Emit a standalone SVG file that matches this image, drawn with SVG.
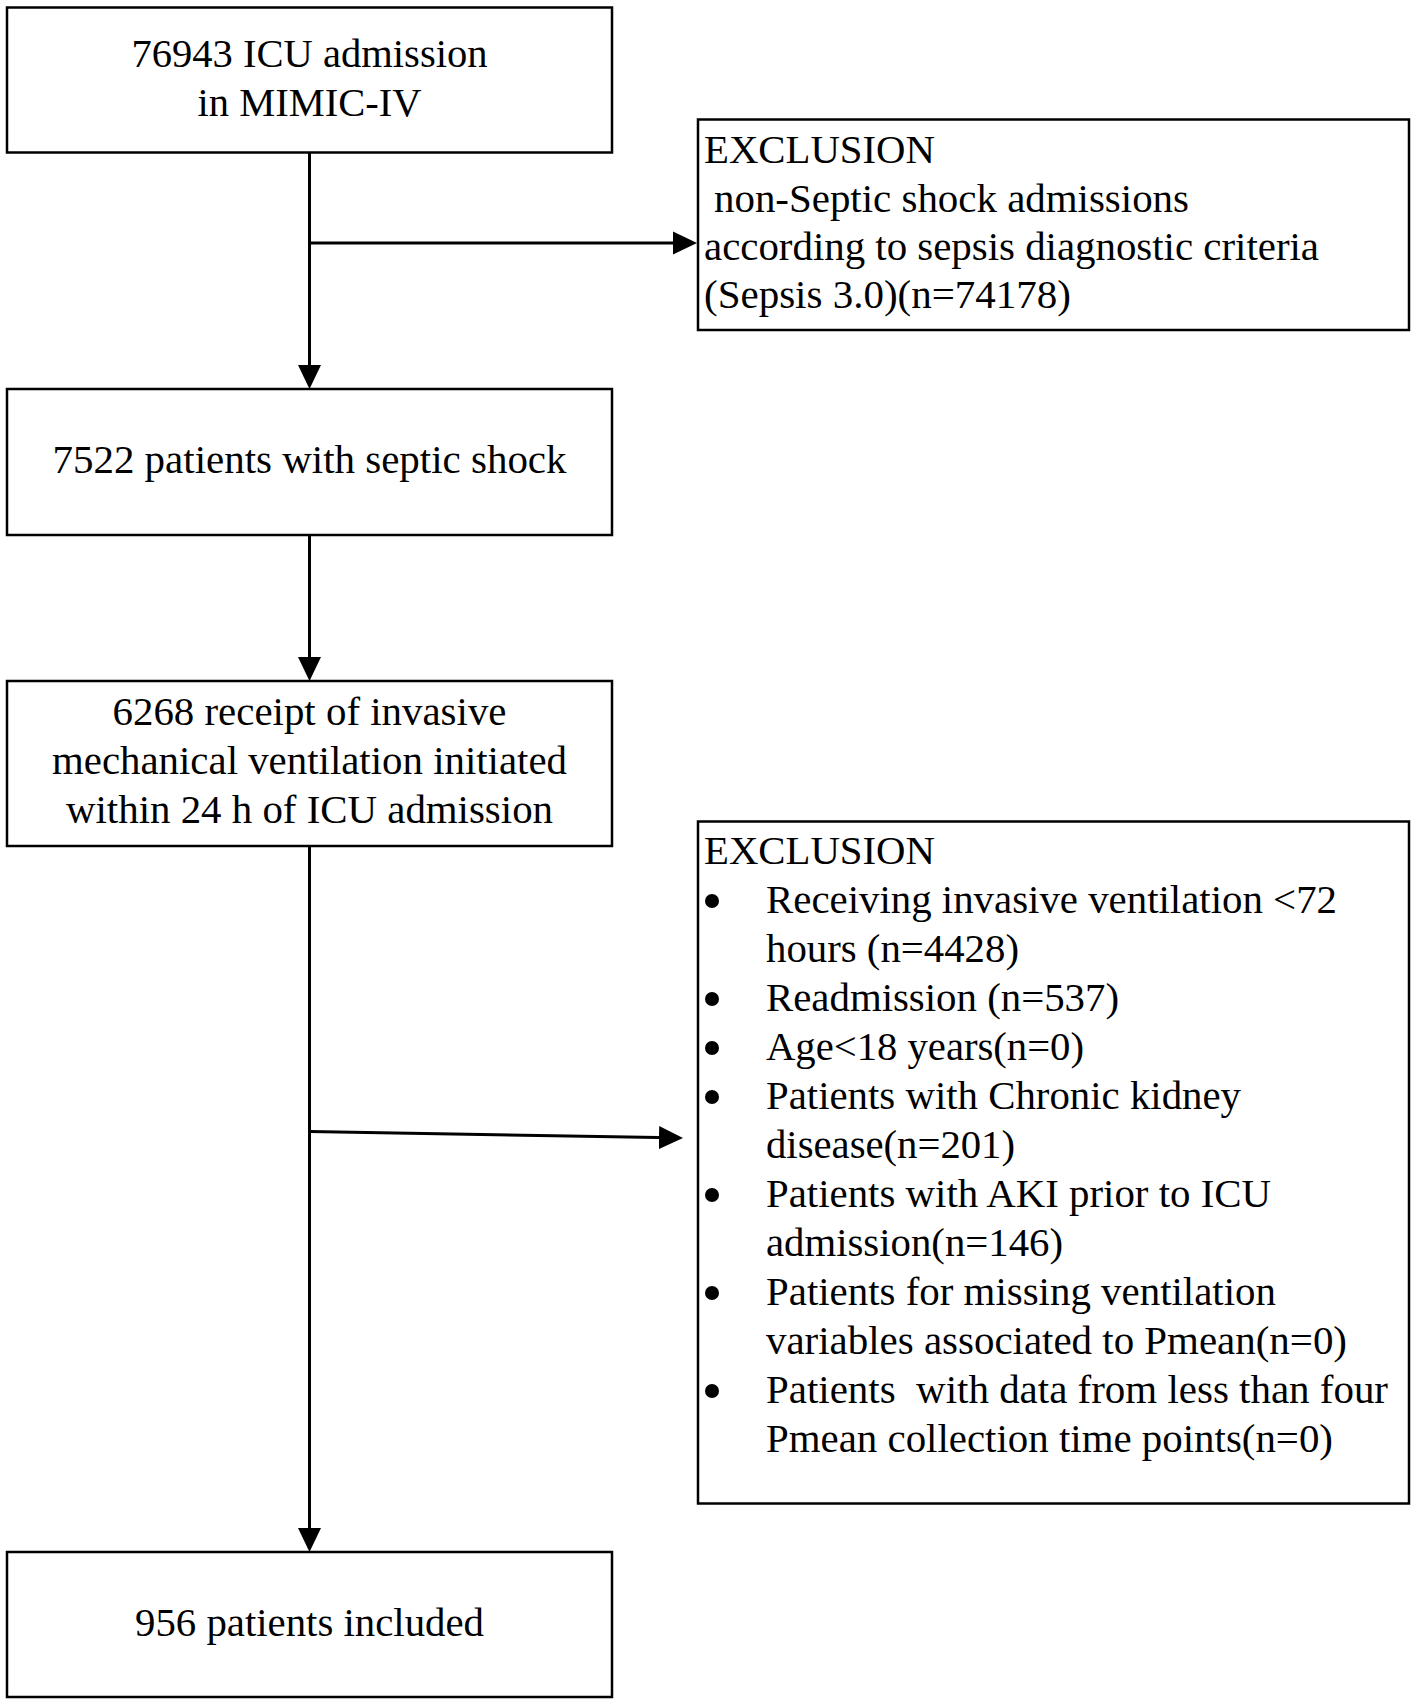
<svg xmlns="http://www.w3.org/2000/svg" width="1417" height="1704" viewBox="0 0 1417 1704">
<style>
.box{fill:#fff;stroke:#000;stroke-width:2.5}
.t{font-family:"Liberation Serif","Times New Roman",serif;font-size:41px;fill:#000}
.c{text-anchor:middle}
.ln{fill:none;stroke:#000;stroke-width:3}
.dot{fill:#000}
</style>
<defs>
<marker id="ah" markerUnits="userSpaceOnUse" markerWidth="24" markerHeight="24" refX="14" refY="11.5" orient="auto" viewBox="0 0 24 23">
<path d="M0,0 L24,11.5 L0,23 z" fill="#000"/>
</marker>
</defs>
<rect width="1417" height="1704" fill="#fff"/>
<g id="connectors">
<path class="ln" d="M309.5,152 L309.5,379" marker-end="url(#ah)"/>
<path class="ln" d="M309.5,243 L687,243" marker-end="url(#ah)"/>
<path class="ln" d="M309.5,535 L309.5,671" marker-end="url(#ah)"/>
<path class="ln" d="M309.5,846 L309.5,1542" marker-end="url(#ah)"/>
<path class="ln" d="M309.5,1131.5 L673,1137.8" marker-end="url(#ah)"/>
</g>
<g id="n1">
<rect class="box" x="7" y="7.5" width="605" height="145"/>
<text class="t c" x="309.5" y="67" textLength="356" lengthAdjust="spacingAndGlyphs">76943 ICU admission</text>
<text class="t c" x="309.5" y="116" textLength="224" lengthAdjust="spacingAndGlyphs">in MIMIC-IV</text>
</g>
<g id="ex1">
<rect class="box" x="698" y="119.5" width="711" height="210.5"/>
<text class="t" x="704" y="163" textLength="231" lengthAdjust="spacingAndGlyphs">EXCLUSION</text>
<text class="t" x="714" y="212" textLength="475" lengthAdjust="spacingAndGlyphs">non-Septic shock admissions</text>
<text class="t" x="704" y="260" textLength="615" lengthAdjust="spacingAndGlyphs">according to sepsis diagnostic criteria</text>
<text class="t" x="704" y="308" textLength="367" lengthAdjust="spacingAndGlyphs">(Sepsis 3.0)(n=74178)</text>
</g>
<g id="n2">
<rect class="box" x="7" y="389" width="605" height="146"/>
<text class="t c" x="309.5" y="473" textLength="514" lengthAdjust="spacingAndGlyphs">7522 patients with septic shock</text>
</g>
<g id="n3">
<rect class="box" x="7" y="681" width="605" height="165"/>
<text class="t c" x="309.5" y="725" textLength="394" lengthAdjust="spacingAndGlyphs">6268 receipt of invasive</text>
<text class="t c" x="309.5" y="774" textLength="515" lengthAdjust="spacingAndGlyphs">mechanical ventilation initiated</text>
<text class="t c" x="309.5" y="823" textLength="487" lengthAdjust="spacingAndGlyphs">within 24 h of ICU admission</text>
</g>
<g id="ex2">
<rect class="box" x="698" y="821.5" width="711" height="682"/>
<text class="t" x="704" y="864" textLength="231" lengthAdjust="spacingAndGlyphs">EXCLUSION</text>
<circle class="dot" cx="712" cy="901" r="7"/>
<text class="t" x="766" y="913" textLength="571" lengthAdjust="spacingAndGlyphs">Receiving invasive ventilation &lt;72</text>
<text class="t" x="766" y="962" textLength="253" lengthAdjust="spacingAndGlyphs">hours (n=4428)</text>
<circle class="dot" cx="712" cy="999" r="7"/>
<text class="t" x="766" y="1011" textLength="353" lengthAdjust="spacingAndGlyphs">Readmission (n=537)</text>
<circle class="dot" cx="712" cy="1048" r="7"/>
<text class="t" x="766" y="1060" textLength="318" lengthAdjust="spacingAndGlyphs">Age&lt;18 years(n=0)</text>
<circle class="dot" cx="712" cy="1097" r="7"/>
<text class="t" x="766" y="1109" textLength="475" lengthAdjust="spacingAndGlyphs">Patients with Chronic kidney</text>
<text class="t" x="766" y="1158" textLength="249" lengthAdjust="spacingAndGlyphs">disease(n=201)</text>
<circle class="dot" cx="712" cy="1195" r="7"/>
<text class="t" x="766" y="1207" textLength="505" lengthAdjust="spacingAndGlyphs">Patients with AKI prior to ICU</text>
<text class="t" x="766" y="1256" textLength="297" lengthAdjust="spacingAndGlyphs">admission(n=146)</text>
<circle class="dot" cx="712" cy="1293" r="7"/>
<text class="t" x="766" y="1305" textLength="510" lengthAdjust="spacingAndGlyphs">Patients for missing ventilation</text>
<text class="t" x="766" y="1354" textLength="581" lengthAdjust="spacingAndGlyphs">variables associated to Pmean(n=0)</text>
<circle class="dot" cx="712" cy="1391" r="7"/>
<text class="t" x="766" y="1403" textLength="622" lengthAdjust="spacingAndGlyphs" xml:space="preserve">Patients  with data from less than four</text>
<text class="t" x="766" y="1452" textLength="567" lengthAdjust="spacingAndGlyphs">Pmean collection time points(n=0)</text>
</g>
<g id="n4">
<rect class="box" x="7" y="1552" width="605" height="145"/>
<text class="t c" x="309.5" y="1636" textLength="349" lengthAdjust="spacingAndGlyphs">956 patients included</text>
</g>
</svg>
